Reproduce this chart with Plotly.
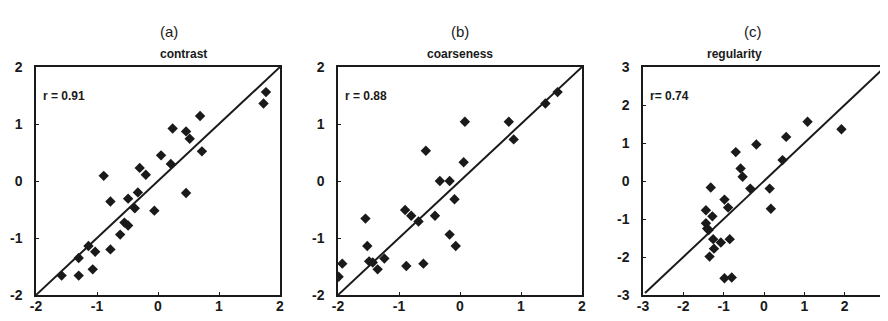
import plotly.graph_objects as go

# panel (a) contrast
contrast_x = [1.77, 1.73, 0.69, 0.24, 0.46, 0.52, 0.72, 0.05, 0.21, -0.30, -0.20, -0.89, 0.46, -0.33,
              -0.78, -0.49, -0.38, -0.06, -0.55, -0.49, -0.62, -0.78, -1.14, -1.03, -1.30, -1.07,
              -1.30, -1.58]
contrast_y = [1.56, 1.36, 1.14, 0.92, 0.87, 0.74, 0.52, 0.45, 0.30, 0.23, 0.11, 0.09, -0.21, -0.20,
              -0.36, -0.31, -0.48, -0.52, -0.73, -0.78, -0.94, -1.20, -1.14, -1.24, -1.35, -1.55,
              -1.66, -1.66]

# panel (b) coarseness
coarse_x = [1.60, 1.40, 0.80, 0.08, 0.88, -0.56, 0.06, -0.33, -0.17, -0.09, -0.90, -0.80, -0.41,
            -0.68, -1.55, -0.17, -0.07, -1.52, -1.49, -1.43, -1.24, -1.35, -0.88, -0.60, -1.93, -1.99]
coarse_y = [1.56, 1.36, 1.04, 1.04, 0.73, 0.53, 0.33, 0.0, 0.0, -0.32, -0.51, -0.61, -0.61,
            -0.71, -0.66, -0.94, -1.14, -1.14, -1.41, -1.43, -1.36, -1.55, -1.49, -1.45, -1.45, -1.68]

# panel (c) regularity
regul_x = [1.08, 1.92, 0.55, 0.46, -0.19, -0.70, -0.58, -0.53, -0.34, 0.14, 0.17, -1.32, -0.98,
           -0.89, -1.44, -1.28, -1.44, -1.41, -1.37, -1.26, -1.07, -0.85, -1.24, -1.35, -0.98, -0.80]
regul_y = [1.56, 1.36, 1.16, 0.55, 0.96, 0.76, 0.33, 0.11, -0.20, -0.20, -0.73, -0.17, -0.49,
           -0.70, -0.77, -0.93, -1.11, -1.25, -1.29, -1.53, -1.62, -1.53, -1.78, -1.99, -2.56, -2.54]

letters = ["(a)", "(b)", "(c)"]
titles = ["contrast", "coarseness", "regularity"]
r_labels = ["r = 0.91", "r = 0.88", "r= 0.74"]
ranges = [(-2, 2), (-2, 2), (-3, 3)]
tick_vals = [[-2, -1, 0, 1, 2], [-2, -1, 0, 1, 2], [-3, -2, -1, 0, 1, 2, 3]]
tick_text = [["-2", "-1", "0", "1", "2"], ["-2", "-1", "0", "1", "2"],
             ["-3", "-2", "-1", "0", "1", "2", "3"]]
line_ends = [(-2, 2), (-2, 2), (-2.95, 2.95)]

W, H = 888, 321
x_px = [(28, 272), (330, 574), (635, 877)]
y_px = (59, 287)

FONT = "Liberation Sans, Arial, sans-serif"
INK = "#1a1a1a"

fig = go.Figure()
series = [(contrast_x, contrast_y), (coarse_x, coarse_y), (regul_x, regul_y)]

for i, (xs, ys) in enumerate(series):
    ax = "" if i == 0 else str(i + 1)
    lo, hi = line_ends[i]
    fig.add_trace(go.Scatter(x=[lo, hi], y=[lo, hi], mode="lines",
                             line=dict(color=INK, width=2),
                             xaxis="x" + ax, yaxis="y" + ax, showlegend=False))
    fig.add_trace(go.Scatter(x=xs, y=ys, mode="markers",
                             marker=dict(symbol="diamond", size=8, color=INK),
                             xaxis="x" + ax, yaxis="y" + ax, showlegend=False))

    dom_x = [x_px[i][0] / W, x_px[i][1] / W]
    dom_y = [1 - y_px[1] / H, 1 - y_px[0] / H]
    common = dict(range=list(ranges[i]), tickvals=tick_vals[i], ticktext=tick_text[i],
                  showgrid=False, zeroline=False,
                  showline=True, mirror=True, linecolor=INK, linewidth=1.5,
                  ticks="inside", ticklen=3, tickcolor=INK, automargin=False,
                  tickfont=dict(family=FONT, size=14, color=INK, weight="bold"))
    fig.update_layout(**{
        "xaxis" + ax: dict(domain=dom_x, anchor="y" + ax, ticklabelstandoff=-3, **common),
        "yaxis" + ax: dict(domain=dom_y, anchor="x" + ax, ticklabelstandoff=9, **common),
    })

    cx = (x_px[i][0] + x_px[i][1]) / 2 / W
    fig.add_annotation(text=letters[i], x=cx, y=1 - 13 / H, xref="paper", yref="paper",
                       showarrow=False, font=dict(family=FONT, size=15, color=INK))
    fig.add_annotation(text=titles[i], x=cx, y=1 - 37 / H, xref="paper", yref="paper",
                       showarrow=False, font=dict(family=FONT, size=12, color=INK, weight="bold"))
    fig.add_annotation(text=r_labels[i], x=(x_px[i][0] + 5) / W, y=1 - 79 / H,
                       xref="paper", yref="paper", xanchor="left", showarrow=False,
                       font=dict(family=FONT, size=12, color=INK, weight="bold"))

fig.update_layout(width=W, height=H, margin=dict(l=0, r=0, t=0, b=0),
                  paper_bgcolor="white", plot_bgcolor="white")

fig.write_html("out.html")
